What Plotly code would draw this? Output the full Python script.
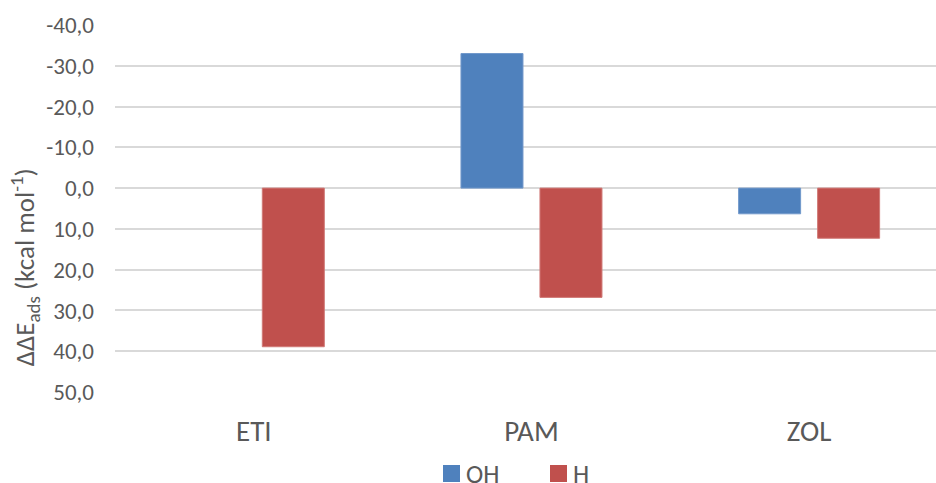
import plotly.graph_objects as go

# Adsorption energy differences per molecule and site
categories = ["ETI", "PAM", "ZOL"]
series_names = ["OH", "H"]
oh_values = [None, -33.0, 6.3]
h_values = [38.9, 26.8, 12.3]

y_tick_vals = [-40, -30, -20, -10, 0, 10, 20, 30, 40, 50]
y_tick_text = ["-40,0", "-30,0", "-20,0", "-10,0", "0,0", "10,0", "20,0", "30,0", "40,0", "50,0"]

FONT = "Carlito, Lato, sans-serif"
TEXT_COLOR = "#595959"
GRID_COLOR = "#D9D9D9"
COLORS = ["#4F81BD", "#C0504D"]
EDGES = ["#7198CB", "#D07A77"]

W, H = 936, 483
M_L, M_R, M_T, M_B = 115, 0, 25, 91
PLOT_W, PLOT_H = W - M_L - M_R, H - M_T - M_B


def px_x(px):
    """Horizontal pixel position -> paper coordinate."""
    return (px - M_L) / PLOT_W


def px_y(py):
    """Vertical pixel position (from top) -> paper coordinate."""
    return (H - M_B - py) / PLOT_H


fig = go.Figure()
for name, vals, col, edge in zip(series_names, [oh_values, h_values], COLORS, EDGES):
    fig.add_trace(go.Bar(
        name=name, x=categories, y=vals, showlegend=False,
        marker=dict(color=col, line=dict(color=edge, width=1)),
    ))

# Legend row below the category labels: swatch + label per series
legend_starts = [443, 550]
swatch = 17
legend_mid = 473.5
shapes, annotations = [], []
for name, col, x0 in zip(series_names, COLORS, legend_starts):
    shapes.append(dict(
        type="rect", xref="paper", yref="paper",
        x0=px_x(x0), x1=px_x(x0 + swatch),
        y0=px_y(legend_mid + swatch / 2), y1=px_y(legend_mid - swatch / 2),
        fillcolor=col, line=dict(width=0),
    ))
    annotations.append(dict(
        text=name, xref="paper", yref="paper",
        x=px_x(x0 + swatch + 5), y=px_y(legend_mid),
        xanchor="left", yanchor="middle", showarrow=False,
        height=18, valign="middle", borderpad=0,
        font=dict(size=26, color=TEXT_COLOR, family=FONT),
    ))

annotations.append(dict(
    text="ΔΔE<sub>ads</sub> (kcal mol<sup>-1</sup>)",
    xref="paper", yref="paper", x=px_x(25), y=0.34,
    xanchor="center", yanchor="middle", textangle=-90, showarrow=False,
    font=dict(size=27, color=TEXT_COLOR, family=FONT),
))

fig.update_layout(
    width=W, height=H,
    margin=dict(l=M_L, r=M_R, t=M_T, b=M_B, autoexpand=False),
    paper_bgcolor="white", plot_bgcolor="white",
    barmode="group", bargap=0.431, bargroupgap=0.215,
    font=dict(family=FONT, color=TEXT_COLOR),
    showlegend=False,
    xaxis=dict(
        range=[-0.5, 2.457], showgrid=False, zeroline=False, showline=False,
        tickfont=dict(size=29, color=TEXT_COLOR), ticklabelstandoff=19,
    ),
    yaxis=dict(
        range=[50, -40], tickmode="array", tickvals=y_tick_vals, ticktext=y_tick_text,
        showgrid=True, gridcolor=GRID_COLOR, gridwidth=1.5,
        zeroline=True, zerolinecolor=GRID_COLOR, zerolinewidth=1.5,
        showline=False, tickfont=dict(size=23, color=TEXT_COLOR), ticklabelstandoff=20,
    ),
    shapes=shapes,
    annotations=annotations,
)

fig.write_html("out.html")
